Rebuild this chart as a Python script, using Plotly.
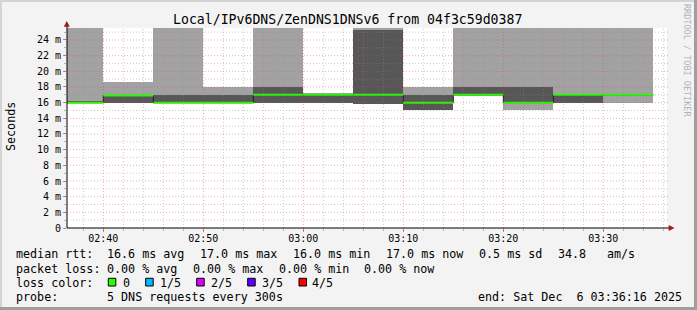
import plotly.graph_objects as go
import pandas as pd

# ---------------- data ----------------
DAY = "2025-12-06 "
interval_starts = ["02:35", "02:40", "02:45", "02:50", "02:55", "03:00",
                   "03:05", "03:10", "03:15", "03:20", "03:25", "03:30"]
# sorted ping values per 5-minute interval (ms); p5 above 25.5 ms is clipped
ping1 = [16.0, 16.0, 16.0, 16.0, 16.0, 16.0, 15.8, 15.0, 16.9, 15.0, 16.0, 16.0]
ping2 = [16.0, 16.0, 16.0, 16.1, 16.0, 16.0, 15.8, 15.0, 17.0, 16.0, 16.0, 17.0]
median = [16.0, 16.9, 16.0, 16.0, 17.0, 17.0, 17.0, 16.0, 17.0, 16.0, 17.0, 17.0]
ping4 = [16.1, 17.0, 17.0, 17.0, 18.0, 17.1, 25.3, 17.0, 18.0, 18.0, 17.0, 17.0]
ping5 = [36.0, 18.7, 35.0, 18.0, 34.0, 17.2, 38.0, 18.0, 33.0, 31.0, 30.0, 32.0]
STEP_MIN = 5

y_tick_vals = [0, 2, 4, 6, 8, 10, 12, 14, 16, 18, 20, 22, 24]
y_tick_text = ["0", "2 m", "4 m", "6 m", "8 m", "10 m", "12 m", "14 m", "16 m",
               "18 m", "20 m", "22 m", "24 m"]
x_tick_labels = ["02:40", "02:50", "03:00", "03:10", "03:20", "03:30"]

title = "Local/IPv6DNS/ZenDNS1DNSv6 from 04f3c59d0387"
rtt_parts = [("median rtt:", 16), ("16.6 ms avg", 107.3), ("17.0 ms max", 200),
             ("16.0 ms min", 293.3), ("17.0 ms now", 385.7), ("0.5 ms sd", 479.3),
             ("34.8", 558.3), ("am/s", 607.3)]
loss_parts = [("packet loss:", 16), ("0.00 % avg", 107.3), ("0.00 % max", 193.3),
              ("0.00 % min", 279), ("0.00 % now", 364)]
loss_colors = ["#26ff00", "#00b8ff", "#dd00ff", "#6000ff", "#ff0000"]
loss_labels = ["0", "1/5", "2/5", "3/5", "4/5"]
probe_parts = [("probe:", 16), ("5 DNS requests every 300s", 107.3),
               ("end: Sat Dec  6 03:36:16 2025", 478.3)]

# ---------------- layout geometry ----------------
W, H = 697, 310
L, R, T, B = 67, 30, 28, 82
PW, PH = W - L - R, H - T - B


def px(x):
    return (x - L) / PW


def py(y):
    return (H - B - y) / PH


MONO = "DejaVu Sans Mono"
starts = pd.to_datetime([DAY + s for s in interval_starts])
step = pd.Timedelta(minutes=STEP_MIN)
width_ms = STEP_MIN * 60 * 1000

fig = go.Figure()

# outer smoke (ping1..ping5)
fig.add_trace(go.Bar(x=starts, y=[b - a for a, b in zip(ping1, ping5)], base=ping1,
                     width=[width_ms] * len(starts), offset=0,
                     marker=dict(color="#a2a2a2", line=dict(width=0)),
                     hoverinfo="skip", showlegend=False))
# inner smoke (ping2..ping4)
fig.add_trace(go.Bar(x=starts, y=[b - a for a, b in zip(ping2, ping4)], base=ping2,
                     width=[width_ms] * len(starts), offset=0,
                     marker=dict(color="#575757", line=dict(width=0)),
                     hoverinfo="skip", showlegend=False))

# dark step line for the median
sx = list(starts) + [starts[-1] + step]
sy = median + [median[-1]]
fig.add_trace(go.Scatter(x=sx, y=sy, mode="lines", line=dict(color="#202020", width=1, shape="hv"),
                         hoverinfo="skip", showlegend=False))
# green median segments
gx, gy = [], []
for s, m in zip(starts, median):
    gx += [s, s + step, None]
    gy += [m, m, None]
fig.add_trace(go.Scatter(x=gx, y=gy, mode="lines", line=dict(color="#26ff00", width=2),
                         hoverinfo="skip", showlegend=False))

x0 = pd.Timestamp(DAY + "02:36:22")
x1 = pd.Timestamp(DAY + "03:36:22")

shapes = []
# grid (drawn above the smoke like rrdtool)
minor_col = "rgba(140,140,140,0.45)"
major_col = "rgba(225,70,70,0.45)"
for v in range(1, 26):
    shapes.append(dict(type="line", xref="paper", yref="y", x0=0, x1=1.003, y0=v, y1=v,
                       layer="above", line=dict(color=major_col if v % 2 == 0 else minor_col,
                                                width=1, dash="1px,2px")))
major_times = [pd.Timestamp(DAY + t) for t in x_tick_labels]
t = pd.Timestamp(DAY + "02:38")
while t <= x1:
    shapes.append(dict(type="line", xref="x", yref="paper", x0=t, x1=t, y0=0, y1=1,
                       layer="above", line=dict(color=major_col if t in major_times else minor_col,
                                                width=1, dash="1px,2px")))
    t += pd.Timedelta(minutes=2)

# axis extensions and arrows
shapes.append(dict(type="line", xref="paper", yref="paper", x0=px(67), x1=px(671),
                   y0=py(228), y1=py(228), line=dict(color="black", width=1)))
shapes.append(dict(type="line", xref="paper", yref="paper", x0=px(67), x1=px(67),
                   y0=py(228), y1=py(24), line=dict(color="black", width=1)))
arrow_col = "#a01818"
shapes.append(dict(type="path", xref="paper", yref="paper",
                   path=f"M {px(66.8)},{py(21)} L {px(63.8)},{py(26.8)} L {px(69.8)},{py(26.8)} Z",
                   fillcolor=arrow_col, line=dict(width=0)))
shapes.append(dict(type="path", xref="paper", yref="paper",
                   path=f"M {px(674.5)},{py(228)} L {px(668.7)},{py(225)} L {px(668.7)},{py(231)} Z",
                   fillcolor=arrow_col, line=dict(width=0)))

# 3D frame
shapes.append(dict(type="rect", xref="paper", yref="paper", x0=px(0), x1=px(697), y0=py(0), y1=py(2),
                   fillcolor="#d4d4d4", line=dict(width=0)))
shapes.append(dict(type="rect", xref="paper", yref="paper", x0=px(0), x1=px(2), y0=py(0), y1=py(310),
                   fillcolor="#d4d4d4", line=dict(width=0)))
shapes.append(dict(type="rect", xref="paper", yref="paper", x0=px(694), x1=px(697), y0=py(0), y1=py(310),
                   fillcolor="#9e9e9e", line=dict(width=0)))
shapes.append(dict(type="rect", xref="paper", yref="paper", x0=px(0), x1=px(697), y0=py(307), y1=py(310),
                   fillcolor="#9e9e9e", line=dict(width=0)))

annotations = []


def txt(s, x, y, size=11.7, color="black", xanchor="left", angle=0):
    annotations.append(dict(text=s.replace(" ", "\u00a0"), x=px(x), y=py(y), xref="paper", yref="paper",
                            xanchor=xanchor, yanchor="middle", showarrow=False, textangle=angle,
                            borderpad=0, borderwidth=0,
                            font=dict(family=MONO, size=size, color=color)))


txt(title, 347.5, 19, size=13.2, xanchor="center")
txt("Seconds", 11, 127, size=11.7, xanchor="center", angle=-90)
txt("RRDTOOL / TOBI OETIKER", 687, 60, size=8.5, color="#b4b4b4", xanchor="center", angle=90)

for s, x in rtt_parts:
    txt(s, x, 254.3)
for s, x in loss_parts:
    txt(s, x, 268.7)
txt("loss color:", 16, 282.7)
sq_x = [108.3, 145.7, 196.7, 247.7, 299]
lab_x = [123.3, 160, 211, 261.7, 312.3]
for c, lab, sx_, lx in zip(loss_colors, loss_labels, sq_x, lab_x):
    shapes.append(dict(type="rect", xref="paper", yref="paper", x0=px(sx_), x1=px(sx_ + 7.5),
                       y0=py(278.3), y1=py(286), fillcolor=c, line=dict(color="black", width=1)))
    txt(lab, lx, 282.7)
for s, x in probe_parts:
    txt(s, x, 296.5)

fig.update_layout(
    width=W, height=H, autosize=False,
    margin=dict(l=L, r=R, t=T, b=B, pad=0),
    paper_bgcolor="#f3f3f3", plot_bgcolor="white",
    barmode="overlay", bargap=0, showlegend=False,
    shapes=shapes, annotations=annotations,
    xaxis=dict(type="date", range=[x0, x1], showgrid=False, zeroline=False,
               showline=False, ticks="outside", ticklen=3, tickcolor="rgba(225,70,70,0.7)",
               tickvals=major_times, ticktext=x_tick_labels, ticklabelstandoff=-2,
               tickfont=dict(family=MONO, size=10, color="black"),
               minor=dict(ticks="outside", ticklen=2, tickcolor="rgba(140,140,140,0.6)",
                          dtick=120000, showgrid=False)),
    yaxis=dict(range=[0, 25.53], showgrid=False, zeroline=False, showline=False,
               ticks="outside", ticklen=3, tickcolor="rgba(225,70,70,0.7)",
               tickvals=y_tick_vals, ticktext=y_tick_text,
               tickfont=dict(family=MONO, size=10, color="black"),
               minor=dict(ticks="outside", ticklen=2, tickcolor="rgba(140,140,140,0.6)",
                          dtick=1, showgrid=False)),
)

fig.write_html("out.html")
